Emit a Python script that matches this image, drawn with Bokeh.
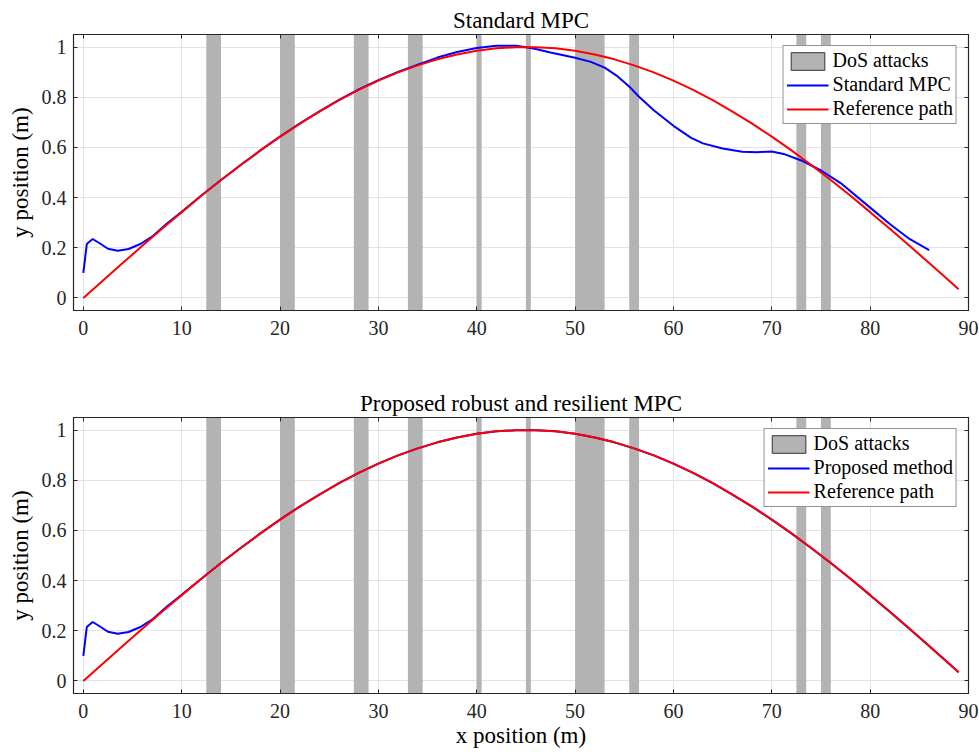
from bokeh.plotting import figure
from bokeh.layouts import column
from bokeh.models import Range1d, LinearAxis, FixedTicker, Legend, LegendItem
from bokeh.embed import file_html
from bokeh.resources import INLINE

# ---- data ----
dos_start = [12.5, 20.0, 27.5, 33.0, 40.0, 45.0, 50.0, 55.5, 72.5, 75.0]
dos_end = [14.0, 21.5, 29.0, 34.5, 40.5, 45.5, 53.0, 56.5, 73.5, 76.0]

ref_x = [0, 2, 4, 6, 8, 10, 12, 14, 16, 18, 20, 22, 24, 26, 28, 30, 32, 34, 36, 38,
         40, 42, 44, 46, 48, 50, 52, 54, 56, 58, 60, 62, 64, 66, 68, 70, 72, 74, 76,
         78, 80, 82, 84, 86, 88, 89]
ref_y = [0.000, 0.070, 0.139, 0.208, 0.276, 0.342, 0.407, 0.470, 0.530, 0.588,
         0.643, 0.695, 0.743, 0.788, 0.829, 0.866, 0.899, 0.927, 0.951, 0.970,
         0.985, 0.995, 0.999, 0.999, 0.995, 0.985, 0.970, 0.951, 0.927, 0.899,
         0.866, 0.829, 0.788, 0.743, 0.695, 0.643, 0.588, 0.530, 0.470, 0.407,
         0.342, 0.276, 0.208, 0.139, 0.070, 0.035]

std_x = [0, 0.35, 0.95, 1.7, 2.5, 3.5, 4.6, 5.8, 7.1, 8.5, 10, 12, 14, 16, 18, 20,
         22, 24, 26, 28, 30, 32, 34, 36, 38, 40, 42, 44, 45, 46, 47.5, 50, 51.6, 53,
         54.3, 55.5, 56.5, 58, 60, 61.8, 63, 65, 67, 68.5, 70, 71.2, 73, 75, 77, 80,
         82, 84, 86]
std_y = [0.100, 0.215, 0.235, 0.217, 0.196, 0.188, 0.195, 0.215, 0.248, 0.297,
         0.343, 0.408, 0.470, 0.530, 0.588, 0.643, 0.695, 0.744, 0.789, 0.831,
         0.868, 0.901, 0.930, 0.958, 0.980, 0.996, 1.005, 1.005, 0.999, 0.992,
         0.978, 0.957, 0.941, 0.918, 0.884, 0.843, 0.802, 0.748, 0.686, 0.638,
         0.616, 0.596, 0.583, 0.581, 0.584, 0.574, 0.548, 0.508, 0.458, 0.360,
         0.295, 0.235, 0.191]

prop_x = [0, 0.35, 0.95, 1.7, 2.5, 3.5, 4.6, 5.8, 7.1, 8.5, 10, 12, 14, 16, 18, 20,
          22, 24, 26, 28, 30, 32, 34, 36, 38, 40, 42, 44, 46, 48, 50, 52, 54, 56, 58,
          60, 62, 64, 66, 68, 70, 72, 74, 76, 78, 80, 82, 84, 86, 88, 89]
prop_y = [0.100, 0.215, 0.235, 0.217, 0.196, 0.188, 0.195, 0.215, 0.248, 0.297,
          0.343, 0.407, 0.470, 0.530, 0.588, 0.643, 0.695, 0.743, 0.788, 0.829,
          0.866, 0.899, 0.927, 0.951, 0.970, 0.985, 0.995, 0.999, 0.999, 0.995,
          0.985, 0.970, 0.951, 0.927, 0.899, 0.866, 0.829, 0.788, 0.743, 0.695,
          0.643, 0.588, 0.530, 0.470, 0.407, 0.342, 0.276, 0.208, 0.139, 0.070, 0.035]

x_ticks = [0, 10, 20, 30, 40, 50, 60, 70, 80, 90]
y_ticks = [0, 0.2, 0.4, 0.6, 0.8, 1.0]
y_tick_labels = {0: "0", 0.2: "0.2", 0.4: "0.4", 0.6: "0.6", 0.8: "0.8", 1.0: "1"}

FONT = "Liberation Serif"
AX = "#262626"


def make(title, line_label, lx, ly, show_xlabel, top_b, bot_b):
    p = figure(width=979, height=top_b + 276 + bot_b, frame_width=895, frame_height=276,
               x_range=Range1d(-1, 90), y_range=Range1d(-0.05, 1.05),
               output_backend="svg", toolbar_location=None,
               min_border_left=73, min_border_right=11,
               min_border_top=top_b, min_border_bottom=bot_b)
    p.title.text = title
    p.title.align = "center"
    p.title.text_font = FONT
    p.title.text_font_size = "23px"
    p.title.text_font_style = "normal"
    p.title.text_color = "black"
    p.title.standoff = 4
    p.outline_line_color = AX
    p.outline_line_width = 1.2

    for ax in (p.xaxis[0], p.yaxis[0]):
        ax.major_tick_in = 4
        ax.major_tick_out = 0
        ax.minor_tick_line_color = None
        ax.axis_line_color = AX
        ax.major_tick_line_color = AX
        ax.major_label_text_font = FONT
        ax.major_label_text_font_size = "20px"
        ax.major_label_text_color = "#262626"
        ax.axis_label_text_font = FONT
        ax.axis_label_text_font_size = "23px"
        ax.axis_label_text_font_style = "normal"
        ax.axis_label_text_color = "black"
    p.xaxis.ticker = FixedTicker(ticks=x_ticks)
    p.yaxis.ticker = FixedTicker(ticks=y_ticks)
    p.yaxis.major_label_overrides = y_tick_labels
    p.xaxis.major_label_standoff = 10
    p.yaxis.major_label_standoff = 7
    p.yaxis.axis_label = "y position (m)"
    p.yaxis.axis_label_standoff = 6
    if show_xlabel:
        p.xaxis.axis_label = "x position (m)"
        p.xaxis.axis_label_standoff = 2

    for side, tk in (("right", y_ticks), ("above", x_ticks)):
        a = LinearAxis(ticker=FixedTicker(ticks=tk), major_tick_in=4, major_tick_out=0,
                       minor_tick_line_color=None, major_label_text_font_size="1px",
                       major_label_text_color=None,
                       major_label_standoff=0, axis_line_color=AX, major_tick_line_color=AX)
        p.add_layout(a, side)

    p.xgrid.ticker = FixedTicker(ticks=x_ticks)
    p.ygrid.ticker = FixedTicker(ticks=y_ticks)
    for g in (p.xgrid[0], p.ygrid[0]):
        g.grid_line_color = "#e3e3e3"
        g.grid_line_width = 1

    yb = p.y_range.start
    yt = p.y_range.end
    p.quad(left=dos_start, right=dos_end, bottom=yb, top=yt,
           fill_color="#b3b3b3", line_color=None)
    blue = p.line(lx, ly, line_color="#0000ff", line_width=2)
    red = p.line(ref_x, ref_y, line_color="#ff0000", line_width=2)

    # legend proxy for the patch with an edge
    proxy = p.quad(left=[0], right=[0], bottom=[0], top=[0], fill_color="#b3b3b3",
                   line_color="#333333", line_width=1, visible=False)

    legend = Legend(items=[LegendItem(label="DoS attacks", renderers=[proxy]),
                           LegendItem(label=line_label, renderers=[blue]),
                           LegendItem(label="Reference path", renderers=[red])],
                    location="top_right")
    legend.label_text_font = FONT
    legend.label_text_font_size = "20px"
    legend.label_text_color = "black"
    legend.glyph_width = 42
    legend.glyph_height = 22
    legend.label_height = 22
    legend.spacing = 1
    legend.padding = 3
    legend.margin = 11
    legend.label_standoff = 4
    legend.border_line_color = AX
    legend.border_line_width = 1
    legend.background_fill_alpha = 1
    p.add_layout(legend)
    return p


p1 = make("Standard MPC", "Standard MPC", std_x, std_y, False, 34, 36)
p2 = make("Proposed robust and resilient MPC", "Proposed method", prop_x, prop_y, True, 71, 59)
layout = column(p1, p2, spacing=0)

open("out.html", "w").write(file_html(layout, INLINE))
